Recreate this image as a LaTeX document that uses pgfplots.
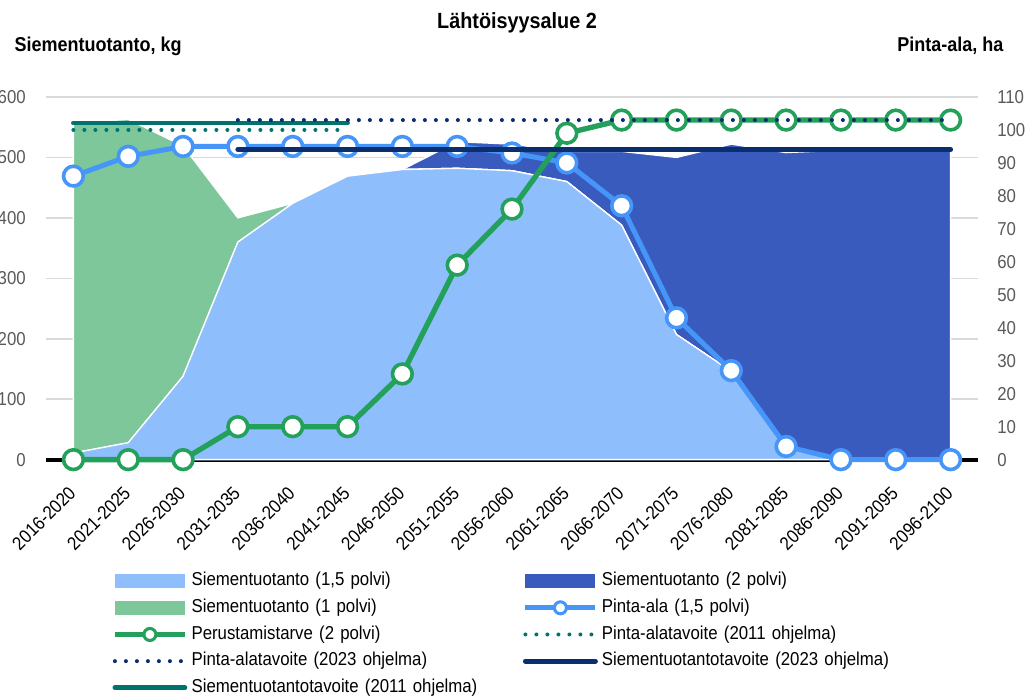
\documentclass[border=0pt]{standalone}
\usepackage{pgfplots}
\pgfplotsset{compat=1.18}
\usepackage{fontspec}
\setmainfont{Liberation Sans}[FakeStretch=0.9]
\usetikzlibrary{calc}

\definecolor{lightblue}{HTML}{8FBEFC}
\definecolor{darkblue}{HTML}{3A5BBE}
\definecolor{greenarea}{HTML}{7DC79A}
\definecolor{pintablue}{HTML}{4696FA}
\definecolor{greenline}{HTML}{23A05A}
\definecolor{navy}{HTML}{0B2E6E}
\definecolor{tealc}{HTML}{00736E}
\definecolor{ticktext}{HTML}{595959}
\definecolor{gridgray}{HTML}{D9D9D9}

\newcommand\tickfont{\fontsize{14}{16}\selectfont}

\pgfplotsset{
  base/.style={
    width=699pt, height=272pt, scale only axis,
    xmin=-0.5, xmax=16.5, clip=false,
  },
  arealeg/.style={legend image code/.code={\fill[##1, draw=none] (0pt,-5.25pt) rectangle (52.5pt,5.25pt);}},
  dotline/.style={line width=3pt, line cap=round, dash pattern=on 0pt off 8.25pt},
}

\begin{document}
\begin{tikzpicture}
% ---------- areas (left axis) ----------
\begin{axis}[base,
  ymin=0, ymax=600, ytick={0,100,200,300,400,500,600},
  xtick={0,...,16},
  xticklabels={2016-2020,2021-2025,2026-2030,2031-2035,2036-2040,2041-2045,2046-2050,2051-2055,2056-2060,2061-2065,2066-2070,2071-2075,2076-2080,2081-2085,2086-2090,2091-2095,2096-2100},
  axis line style={draw=none}, major tick style={draw=none},
  ymajorgrids, major grid style={draw=gridgray, line width=1.1pt},
  ytick pos=left, xtick pos=bottom,
  yticklabel style={anchor=east, inner sep=0pt, xshift=-15pt},
  xticklabel style={yshift=-22.5pt, xshift=-0.75pt, rotate=45, anchor=east, inner sep=0pt, text=black},
  tick label style={font=\tickfont},
  yticklabel style={text=ticktext},
  /pgf/number format/assume math mode=true,
  stack plots=y,
]
\coordinate (BL) at (rel axis cs:0,0);
\coordinate (TR) at (rel axis cs:1,1);
\coordinate (TL) at (rel axis cs:0,1);
\addplot[fill=lightblue, draw=white, line width=1pt] coordinates {
(0,11)(1,28)(2,138)(3,360)(4,424)(5,469)(6,480)(7,482)(8,478)(9,460)(10,388)(11,207)(12,146)(13,18)(14,0)(15,0)(16,0)} \closedcycle;
\addplot[fill=greenarea, draw=white, line width=1pt] coordinates {
(0,546)(1,535)(2,381)(3,40)(4,0)(5,0)(6,0)(7,0)(8,0)(9,0)(10,0)(11,0)(12,0)(13,0)(14,0)(15,0)(16,0)} \closedcycle;
\addplot[fill=darkblue, draw=white, line width=1pt] coordinates {
(0,0)(1,0)(2,0)(3,0)(4,0)(5,0)(6,0)(7,44)(8,44)(9,50)(10,122)(11,293)(12,376)(13,490)(14,512)(15,512)(16,512)} \closedcycle;
\draw[black, line width=3pt] (rel axis cs:0,0) -- (rel axis cs:1,0);
\end{axis}

% ---------- area lines (right axis) ----------
\begin{axis}[base,
  ymin=0, ymax=110, ytick={0,10,...,110},
  axis line style={draw=none}, major tick style={draw=none},
  xtick=\empty, ytick pos=right,
  yticklabel style={anchor=west, inner sep=0pt, xshift=14.25pt, font=\tickfont, text=ticktext},
  /pgf/number format/assume math mode=true,
]
\addplot[pintablue, line width=3.75pt, mark=*, mark size=7.4pt,
  mark options={fill=white, draw=pintablue, line width=2.7pt}] coordinates {
(0,86)(1,92)(2,95)(3,95)(4,95)(5,95)(6,95)(7,95)(8,93)(9,90)(10,77)(11,43)(12,27)(13,4)(14,0)(15,0)(16,0)};
\addplot[greenline, line width=4pt, mark=*, mark size=7.4pt,
  mark options={fill=white, draw=greenline, line width=2.7pt}] coordinates {
(0,0)(1,0)(2,0)(3,10)(4,10)(5,10)(6,26)(7,59)(8,76)(9,99)(10,103)(11,103)(12,103)(13,103)(14,103)(15,103)(16,103)};
\end{axis}

% ---------- production targets (left scale) ----------
\begin{axis}[base, ymin=0, ymax=600, hide axis]
\addplot[tealc, line width=3.6pt, line cap=round] coordinates {(0,557)(5,557)};
\addplot[navy, line width=3.75pt, line cap=round] coordinates {(3,513)(16,513)};
\end{axis}

% ---------- area targets (right scale) + legend ----------
\begin{axis}[base, ymin=0, ymax=110, hide axis,
  legend columns=2,
  legend cell align=left,
  legend style={at={(0.0708,-0.3085)}, anchor=north west, draw=none, fill=none, inner sep=0pt,
    font=\tickfont, /tikz/column sep=3pt, /tikz/row sep=6pt,
    nodes={inner sep=0pt, text width=245.5pt, text height=10.5pt, text depth=3.5pt}},
  legend image code/.code={\draw[mark repeat=2,mark phase=2,#1] plot coordinates {(0pt,0pt) (26.25pt,0pt) (52.5pt,0pt)};},
]
\addplot[forget plot, tealc, dotline] coordinates {(0,100)(5,100)};
\addplot[forget plot, navy, dotline] coordinates {(3,103)(16,103)};

\addlegendimage{arealeg, fill=lightblue}
\addlegendentry{Siementuotanto (1,5 polvi)}
\addlegendimage{arealeg, fill=darkblue}
\addlegendentry{Siementuotanto (2 polvi)}
\addlegendimage{arealeg, fill=greenarea}
\addlegendentry{Siementuotanto (1 polvi)}
\addlegendimage{pintablue, line width=3.75pt, mark=*, mark size=4.5pt, mark options={fill=white, draw=pintablue, line width=2.3pt}}
\addlegendentry{Pinta-ala (1,5 polvi)}
\addlegendimage{greenline, line width=4pt, mark=*, mark size=4.5pt, mark options={fill=white, draw=greenline, line width=2.3pt}}
\addlegendentry{Perustamistarve (2 polvi)}
\addlegendimage{tealc, dotline}
\addlegendentry{Pinta-alatavoite (2011 ohjelma)}
\addlegendimage{navy, dotline}
\addlegendentry{Pinta-alatavoite (2023 ohjelma)}
\addlegendimage{navy, line width=3.75pt, line cap=round}
\addlegendentry{Siementuotantotavoite (2023 ohjelma)}
\addlegendimage{tealc, line width=3.6pt, line cap=round}
\addlegendentry{Siementuotantotavoite (2011 ohjelma)}
\end{axis}

\node[anchor=center, font=\bfseries\fontsize{16.5}{19}\selectfont] at ($(TL)+(353.25pt,55.5pt)$) {Lähtöisyysalue 2};
\node[anchor=base west, font=\bfseries\fontsize{15}{18}\selectfont] at ($(TL)+(-27pt,34pt)$) {Siementuotanto, kg};
\node[anchor=base east, font=\bfseries\fontsize{15}{18}\selectfont] at ($(TR)+(22.5pt,34pt)$) {Pinta-ala, ha};

\pgfresetboundingbox
\path ($(BL)+(-34.5pt,-180pt)$) rectangle ($(TR)+(39.75pt,72.75pt)$);
\end{tikzpicture}
\end{document}
